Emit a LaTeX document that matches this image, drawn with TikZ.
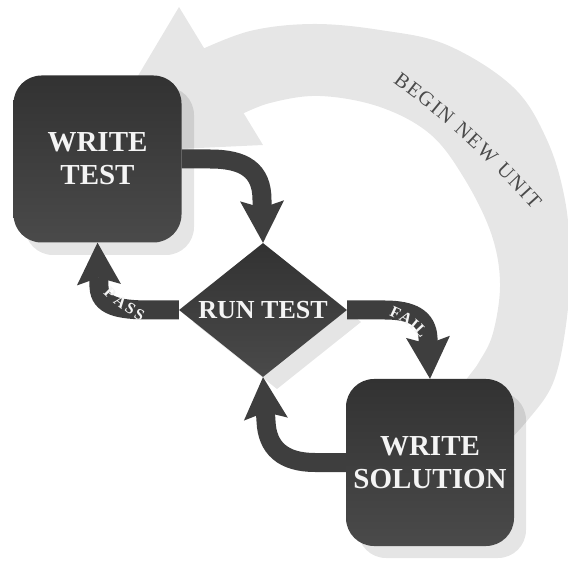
\documentclass[tikz,border=0pt]{standalone}
\usepackage{fontspec}
\setmainfont{Liberation Serif}
\usetikzlibrary{arrows.meta,shapes.geometric}
\definecolor{loopgrey}{HTML}{E6E6E6}
\definecolor{inkgrey}{HTML}{3E3E3E}
\definecolor{boxtop}{HTML}{323232}
\definecolor{boxbottom}{HTML}{4A4A4A}
\definecolor{labelwhite}{HTML}{F4F4F4}
\definecolor{unittext}{HTML}{4A4A4A}
\pgfdeclarelayer{loop}
\pgfdeclarelayer{flows}
\pgfsetlayers{loop,flows,main}
\tikzset{
  stepbox/.style={rectangle, rounded corners=28pt, top color=boxtop, bottom color=boxbottom,
    minimum width=168pt, minimum height=167pt, inner sep=0pt, align=center,
    text=labelwhite, font=\bfseries\fontsize{29}{33}\selectfont},
  testdiamond/.style={diamond, top color=boxtop, bottom color=boxbottom,
    minimum width=168pt, minimum height=134pt, inner sep=0pt, shape aspect=1.25,
    text=labelwhite, font=\bfseries\fontsize{26}{30}\selectfont},
  castshadow/.style={fill=black, opacity=0.1},
  flow/.style={draw=inkgrey, line width=19pt,
    -{Stealth[length=42pt, width=44pt, inset=7pt, line width=0pt]}},
  tagletter/.style={text=labelwhite, inner sep=0pt, font=\bfseries\fontsize{16}{16}\selectfont},
  unitletter/.style={sloped, anchor=base, inner sep=0pt, text=unittext,
    font=\fontsize{20.5}{20.5}\selectfont},
}
\begin{document}
\begin{tikzpicture}[x=1pt,y=-1pt]
\useasboundingbox (0,0) rectangle (568,561);

% the three steps
\node[stepbox] (WT) at (97.5,159) {WRITE\\TEST};
\node[testdiamond] (RT) at (263,310) {RUN TEST};
\node[stepbox] (WS) at (430,462.5) {WRITE\\SOLUTION};

\begin{pgfonlayer}{loop}
  % wide loop arrow round the cycle
  \fill[loopgrey]
    plot[smooth, tension=0.6] coordinates {(196,52) (250,31) (313,24) (380,30) (447,45)
      (513,87) (547,140) (565,200) (570,262) (566,325) (553,383) (527,421) (495,455)}
    -- plot[smooth, tension=0.6] coordinates {(446,410) (466,380) (479,362) (493,333)
      (500,283) (491,233) (464,178) (430,134) (380,107) (320,96) (270,103) (236,117)}
    -- cycle;
  \fill[loopgrey] (179,7) -- (263,145) -- (92,153) -- cycle;
  \path (392.8,82) .. controls (444.3,119.8) and (490.8,162.3) .. (532.8,210)
    node[unitletter, pos=.036] (u1) {B}
    node[unitletter, pos=.114] (u2) {E}
    node[unitletter, pos=.194] (u3) {G}
    node[unitletter, pos=.260] (u4) {I}
    node[unitletter, pos=.326] (u5) {N}
    node[unitletter, pos=.448] (u6) {N}
    node[unitletter, pos=.528] (u7) {E}
    node[unitletter, pos=.621] (u8) {W}
    node[unitletter, pos=.755] (u9) {U}
    node[unitletter, pos=.842] (u10) {N}
    node[unitletter, pos=.907] (u11) {I}
    node[unitletter, pos=.967] (u12) {T};
  % cast shadows
  \fill[castshadow, rounded corners=28pt] (25,87) rectangle (194,255);
  \fill[castshadow, rounded corners=28pt] (358,392) rectangle (526,558);
  \fill[castshadow] (277,255) -- (361,322) -- (277,389) -- (193,322) -- cycle;
\end{pgfonlayer}

\begin{pgfonlayer}{flows}
  \draw[flow] (WT.east) -- (210,159) .. controls (244,159) and (262,170) .. (262,200) -- (RT.north);
  \draw[flow] (RT.west) -- (150,310) .. controls (118,310) and (100,306) .. (99,287) -- (WT.south);
  \draw[flow] (RT.east) -- (385,310) .. controls (412,310) and (427,318) .. (428,338) -- (WS.north);
  \draw[flow] (WS.west) -- (315,462.5) .. controls (283,462.5) and (267,448) .. (266,421) -- (RT.south);
\end{pgfonlayer}

% branch labels set along the bends
\node[tagletter, rotate=-44] (p1) at (110,293.5) {P};
\node[tagletter, rotate=-38] (p2) at (120.5,301.5) {A};
\node[tagletter, rotate=-33] (p3) at (130.5,308.5) {S};
\node[tagletter, rotate=-27] (p4) at (139.5,315) {S};
\node[tagletter, rotate=-25] (f1) at (395.5,312.5) {F};
\node[tagletter, rotate=-32] (f2) at (406,318.5) {A};
\node[tagletter, rotate=-40] (f3) at (414,324.5) {I};
\node[tagletter, rotate=-47] (f4) at (421,331) {L};
\end{tikzpicture}
\end{document}
